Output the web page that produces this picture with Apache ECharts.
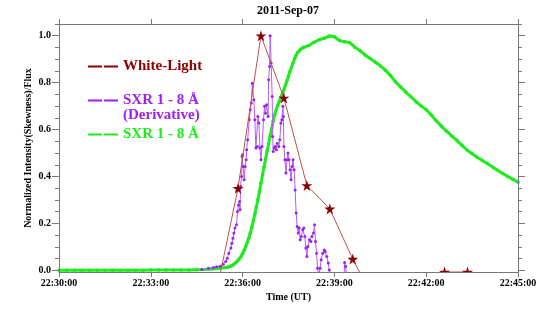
<!DOCTYPE html>
<html>
<head>
<meta charset="utf-8">
<script src="https://cdn.jsdelivr.net/npm/echarts@6/dist/echarts.min.js"></script>
<style>
html,body{margin:0;padding:0;background:#fff;}
#chart{width:554px;height:312px;}
</style>
</head>
<body>
<div id="chart"></div>
<script>
// ---- data (time in seconds after 22:30:00 UT) ----
var titleText = '2011-Sep-07';
var xTickLabels = ['22:30:00', '22:33:00', '22:36:00', '22:39:00', '22:42:00', '22:45:00'];
var yTickValues = [0, 0.2, 0.4, 0.6, 0.8, 1.0];
var yMinorTickValues = [0.05, 0.1, 0.15, 0.25, 0.3, 0.35, 0.45, 0.5, 0.55, 0.65, 0.7, 0.75, 0.85, 0.9, 0.95, 1.05];

var wlName = 'White-Light';
var derivName = 'SXR 1 - 8 Å (Derivative)';
var sxrName = 'SXR 1 - 8 Å';

var wlTime = [306, 351, 396, 441, 486, 531, 576, 621, 666, 711, 756, 801, 846];
var wlValue = [-0.12, 0.35, 1.0, 0.735, 0.362, 0.262, 0.048, -0.14, -0.2, -0.1, -0.007, -0.007, -0.15];

var derivTime = [
  280, 293, 303, 309, 316, 322, 327, 330, 333, 337,
  339, 341, 343, 345, 348, 350, 352, 354, 355, 356,
  358, 359, 360, 361, 363, 365, 367, 368, 370, 373,
  375, 377, 379, 382, 384, 386, 389, 390, 392, 394,
  396, 398, 401, 403, 405, 407, 410, 411, 413, 414,
  416, 418, 419, 420, 422, 424, 426, 428, 431, 433,
  435, 437, 439, 440, 441, 443, 445, 447, 449, 451,
  453, 455, 457, 459, 461, 463, 465, 467, 469, 471,
  473, 475, 478, 480, 482, 484, 486, 488, 491, 494,
  496, 499, 501, 503, 505, 507, 509, 512, 514, 517,
  520, 522, 525, 528, 530, 533, 546, 559, 560, 562,
  564, 575
];
var derivValue = [
  0.004, 0.009, 0.012, 0.015, 0.018, 0.026, 0.038, 0.052, 0.073, 0.095,
  0.116, 0.137, 0.159, 0.180, 0.194, 0.251, 0.279, 0.294, 0.258, 0.357,
  0.400, 0.485, 0.493, 0.443, 0.386, 0.443, 0.471, 0.514, 0.557, 0.642,
  0.684, 0.713, 0.798, 0.727, 0.642, 0.521, 0.528, 0.656, 0.628, 0.521,
  0.471, 0.528, 0.642, 0.699, 0.670, 0.706, 0.656, 0.812, 0.869, 1.000,
  0.884, 0.741, 0.571, 0.507, 0.521, 0.528, 0.514, 0.542, 0.528, 0.557,
  0.628, 0.642, 0.699, 0.656, 0.528, 0.471, 0.415, 0.471, 0.500, 0.471,
  0.429, 0.386, 0.443, 0.471, 0.429, 0.343, 0.244, 0.187, 0.159, 0.180,
  0.130, 0.144, 0.173, 0.180, 0.144, 0.095, 0.059, 0.102, 0.130, 0.123,
  0.144, 0.159, 0.194, 0.123, 0.073, 0.009, -0.020, 0.009, 0.045, 0.073,
  0.087, 0.080, 0.059, 0.031, 0.002, -0.030, -0.050, -0.030, 0.033, 0.016,
  -0.030, -0.050
];

var sxrTime = [
  0, 15, 30, 45, 60, 75, 90, 105, 120, 135, 150, 165, 180, 195, 210, 225, 240, 255, 270, 285, 300, 315,
  330, 333, 336, 339, 342, 345, 348, 351, 354, 357,
  360, 363, 366, 369, 372, 375, 378, 381, 384, 387,
  390, 393, 396, 399, 402, 405, 408, 411, 414, 417,
  420, 423, 426, 429, 432, 435, 438, 441, 444, 447,
  450, 453, 456, 459, 462, 465, 468, 471, 474, 477,
  480,
  490, 500, 510, 520, 530, 540, 550, 560, 570, 580,
  590, 600, 610, 620, 630, 640, 650, 660, 670, 680,
  690, 700, 710, 720, 730, 740, 750, 760, 770, 780,
  790, 800, 810, 820, 830, 840, 850, 860, 870, 880,
  890, 900
];
var sxrValue = [
  0.000, 0.000, 0.000, 0.000, 0.000, 0.000, 0.000, 0.000, 0.000, 0.000, 0.000, 0.000, 0.001, 0.001, 0.001, 0.001, 0.002, 0.002, 0.003, 0.004, 0.006, 0.009,
  0.013, 0.015, 0.017, 0.020, 0.024, 0.029, 0.036, 0.043, 0.050, 0.060,
  0.072, 0.085, 0.101, 0.118, 0.137, 0.158, 0.183, 0.211, 0.240, 0.270,
  0.302, 0.336, 0.371, 0.406, 0.441, 0.474, 0.508, 0.540, 0.573, 0.605,
  0.637, 0.663, 0.686, 0.704, 0.721, 0.737, 0.752, 0.770, 0.790, 0.808,
  0.828, 0.848, 0.867, 0.885, 0.902, 0.917, 0.928, 0.936, 0.942, 0.947,
  0.951,
  0.958, 0.972, 0.983, 0.989, 0.999, 0.996, 0.980, 0.974, 0.971, 0.951,
  0.937, 0.918, 0.903, 0.888, 0.872, 0.853, 0.830, 0.803, 0.781, 0.760,
  0.740, 0.719, 0.701, 0.685, 0.662, 0.637, 0.614, 0.593, 0.573, 0.554,
  0.533, 0.513, 0.497, 0.482, 0.468, 0.455, 0.441, 0.427, 0.413, 0.400,
  0.388, 0.376
];

// ---- build ----
function pairs(t, v) { var out = []; for (var i = 0; i < t.length; i++) out.push([t[i], v[i]]); return out; }

var FONT = 'Liberation Serif';
var AXIS_COLOR = '#777';
var Y_MIN = -0.007, Y_MAX = 1.05;
var RED = '#8b0000', PURPLE = '#a020f0', GREEN = '#1aef1a';
var STAR = 'path://M50,0 L61,35 L98,35 L68,57 L79,91 L50,70 L21,91 L32,57 L2,35 L39,35 Z';

function yAxisDef(pos, ticks, len, showLabel, withName) {
  var a = {
    type: 'value', position: pos, min: Y_MIN, max: Y_MAX, z: 10,
    axisLine: { show: true, onZero: false, lineStyle: { color: AXIS_COLOR, width: 1 } },
    axisTick: { show: true, inside: false, length: len, customValues: ticks, lineStyle: { color: AXIS_COLOR } },
    axisLabel: { show: showLabel, customValues: ticks, margin: 8, color: '#000', fontFamily: FONT, fontWeight: 'bold', fontSize: 10,
      formatter: function (v) { return v.toFixed(1); } },
    splitLine: { show: false }
  };
  if (withName) {
    a.name = 'Normalized Intensity(Skewness)/Flux';
    a.nameLocation = 'middle';
    a.nameRotate = 90;
    a.nameGap = 26;
    a.nameMoveOverlap = false;
    a.nameTextStyle = { color: '#000', fontFamily: FONT, fontWeight: 'bold', fontSize: 10 };
  }
  return a;
}
function xAxisDef(pos, showLabel, withName) {
  var a = {
    type: 'value', position: pos, min: 0, max: 900, interval: 180, z: 10,
    axisLine: { show: true, onZero: false, lineStyle: { color: AXIS_COLOR, width: 1 } },
    axisTick: { show: true, inside: false, length: 5, lineStyle: { color: AXIS_COLOR } },
    axisLabel: { show: showLabel, margin: 6, color: '#000', fontFamily: FONT, fontWeight: 'bold', fontSize: 10,
      formatter: function (v) { return xTickLabels[Math.round(v / 180)]; } },
    splitLine: { show: false }
  };
  if (withName) {
    a.name = 'Time (UT)';
    a.nameLocation = 'middle';
    a.nameGap = 20;
    a.nameTextStyle = { color: '#000', fontFamily: FONT, fontWeight: 'bold', fontSize: 10 };
  }
  return a;
}

var chart = echarts.init(document.getElementById('chart'), null, { renderer: 'canvas' });
chart.setOption({
  animation: false,
  backgroundColor: '#fff',
  title: { text: titleText, left: 257, top: 5, padding: 0,
    textStyle: { fontFamily: FONT, fontWeight: 'bold', fontSize: 12, color: '#000' } },
  grid: { left: 59, right: 36, top: 24, bottom: 40, containLabel: false },
  legend: {
    orient: 'vertical', left: 88, top: 59, padding: 0, itemGap: 4,
    itemWidth: 30, itemHeight: 2, selectedMode: false,
    icon: 'path://M0,0H14V2H0Z M16,0H30V2H16Z',
    textStyle: { fontFamily: FONT, fontWeight: 'bold', fontSize: 15, lineHeight: 15 },
    formatter: function (name) { return name === derivName ? '\nSXR 1 - 8 Å\n(Derivative)' : name; },
    data: [
      { name: wlName, itemStyle: { color: RED }, textStyle: { color: RED } },
      { name: derivName, itemStyle: { color: PURPLE }, textStyle: { color: PURPLE } },
      { name: sxrName, itemStyle: { color: GREEN }, textStyle: { color: GREEN } }
    ]
  },
  xAxis: [xAxisDef('bottom', true, true), xAxisDef('top', false, false)],
  yAxis: [
    yAxisDef('left', yTickValues, 7, true, true),
    yAxisDef('left', yMinorTickValues, 4, false, false),
    yAxisDef('right', yTickValues, 7, false, false),
    yAxisDef('right', yMinorTickValues, 4, false, false)
  ],
  graphic: [
    { type: 'rect', z: 5, silent: true, shape: { x: 60, y: 272.6, width: 457, height: 6 }, style: { fill: '#fff' } }
  ],
  series: [
    {
      name: sxrName, type: 'line', xAxisIndex: 0, yAxisIndex: 0, z: 2,
      data: pairs(sxrTime, sxrValue), clip: true,
      symbol: 'circle', symbolSize: 3.5, showSymbol: true,
      itemStyle: { color: '#22e622' },
      lineStyle: { color: GREEN, width: 3 },
      emphasis: { disabled: true }
    },
    {
      name: derivName, type: 'line', xAxisIndex: 0, yAxisIndex: 0, z: 3,
      data: pairs(derivTime, derivValue), clip: true,
      symbol: 'circle', symbolSize: 3, showSymbol: true,
      itemStyle: { color: '#9a22ee' },
      lineStyle: { color: '#b55cf5', width: 1 },
      emphasis: { disabled: true }
    },
    {
      name: wlName, type: 'line', xAxisIndex: 0, yAxisIndex: 0, z: 4,
      data: pairs(wlTime, wlValue), clip: true,
      symbol: STAR, symbolSize: 11, showSymbol: true,
      itemStyle: { color: RED },
      lineStyle: { color: '#c0504d', width: 1 },
      emphasis: { disabled: true }
    }
  ]
});
</script>
</body>
</html>
